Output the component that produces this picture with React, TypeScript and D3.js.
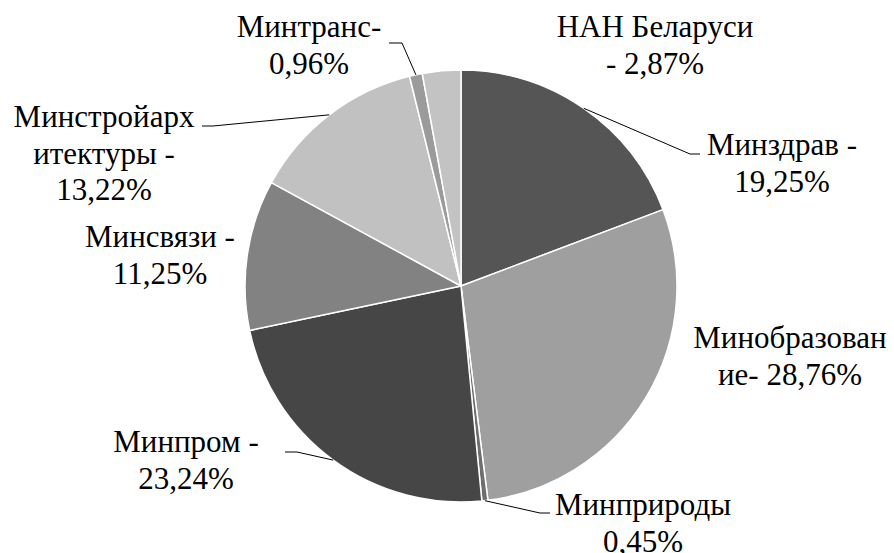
import * as d3 from 'd3';

// ministries and their share, clockwise from 12 o'clock
const categories = ['Минздрав', 'Минобразование', 'Минприроды', 'Минпром', 'Минсвязи', 'Минстройархитектуры', 'Минтранс', 'НАН Беларуси'];
const shares = [19.25, 28.76, 0.45, 23.24, 11.25, 13.22, 0.96, 2.87];
const labelLines = [
    ['Минздрав -', '19,25%'],
    ['Минобразован', 'ие- 28,76%'],
    ['Минприроды', '0,45%'],
    ['Минпром -', '23,24%'],
    ['Минсвязи -', '11,25%'],
    ['Минстройарх', 'итектуры -', '13,22%'],
    ['Минтранс-', '0,96%'],
    ['НАН Беларуси', '- 2,87%'],
];

const fills = ['#555555', '#9f9f9f', '#6e6e6e', '#464646', '#828282', '#c1c1c1', '#9b9b9b', '#c3c3c3'];

// label layout: centre x, first baseline y, leader bend / end (null = no leader)
const labelLayout: { x: number; y: number; leader: [number, number][] | null }[] = [
    { x: 782, y: 155, leader: [[690, 154], [700, 154]] },
    { x: 790, y: 348, leader: null },
    { x: 643, y: 515, leader: [[540, 513], [550, 513]] },
    { x: 186, y: 452, leader: [[297, 452], [285, 452]] },
    { x: 160, y: 247, leader: null },
    { x: 104, y: 127, leader: [[213, 126], [202, 126]] },
    { x: 309, y: 37, leader: [[402, 43], [389, 43]] },
    { x: 655, y: 37, leader: null },
];

const width = 894;
const height = 553;
const cx = 461;
const cy = 286;
const radius = 216;
const lineHeight = 36.5;
const fontSize = 31;

export default function App() {
    const data = categories.map((c, i) => ({ name: c, value: shares[i], idx: i }));
    const arcs = d3.pie<any>().value(d => d.value).sort(null)(data);
    const arc = d3.arc<any>().innerRadius(0).outerRadius(radius);
    const line = d3.line();

    return (
        <svg width={width} height={height} lang="ru"
            style={{ position: 'absolute', left: 0, top: 0, font: `${fontSize}px "Liberation Serif", "Times New Roman", serif` }}>
            <g transform={`translate(${cx},${cy})`}>
                {arcs.map(a => (
                    <path key={a.data.name} d={arc(a) || ''} fill={fills[a.data.idx]}
                        stroke="#ffffff" strokeWidth={1.5} strokeLinejoin="round" />
                ))}
            </g>
            {arcs.map(a => {
                const lay = labelLayout[a.data.idx];
                if (!lay.leader) return null;
                // leader starts at the middle of the slice's outer edge
                const mid = (a.startAngle + a.endAngle) / 2;
                const start: [number, number] = [cx + radius * Math.sin(mid), cy - radius * Math.cos(mid)];
                return (
                    <path key={'l' + a.data.name} d={line([start, ...lay.leader]) || ''}
                        fill="none" stroke="#000000" strokeWidth={1} />
                );
            })}
            {labelLines.map((lines, i) => lines.map((ln, j) => (
                <text key={'t' + i + '-' + j}
                    x={labelLayout[i].x}
                    y={labelLayout[i].y + j * lineHeight}
                    textAnchor="middle"
                    fontFamily="Liberation Serif, Times New Roman, serif">
                    {ln}
                </text>
            )))}
        </svg>
    );
}
